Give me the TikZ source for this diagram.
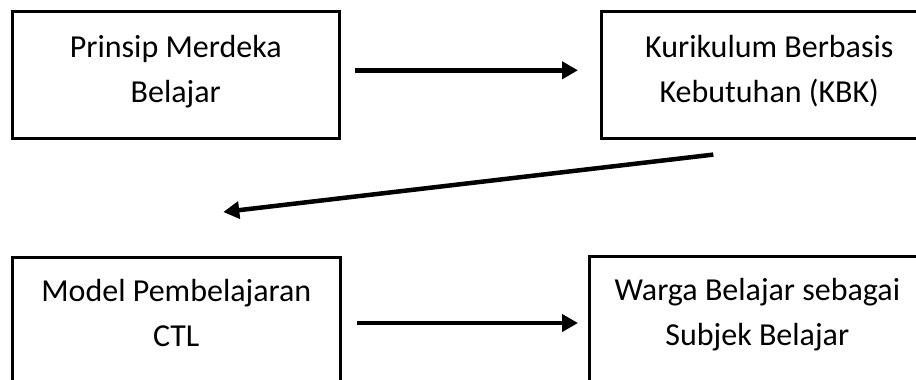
\documentclass[tikz,border=0pt]{standalone}
\usepackage{fontspec}
\setmainfont{Carlito}
\usetikzlibrary{arrows.meta}
\newcommand{\boxtxt}[4]{\parbox[c][#2][t]{#1}{\centering\rule{0pt}{#3}#4}}
\tikzset{
  cell/.style={draw, line width=2.6pt, inner sep=0pt, anchor=north west,
    font=\fontsize{32}{45}\selectfont},
  arr/.style={line width=4.5pt, -{Triangle[length=16pt,width=17pt]}}
}
\begin{document}
\begin{tikzpicture}[x=1pt,y=1pt]
\useasboundingbox (0,0) rectangle (916,-380);
\clip (0,0) rectangle (916,-380);
\node[cell] (a) at (11,-10) {\boxtxt{327pt}{127pt}{46pt}{Prinsip Merdeka\\Belajar}};
\node[cell] (b) at (600,-10) {\boxtxt{336pt}{127pt}{46pt}{Kurikulum Berbasis\\Kebutuhan (KBK)}};
\node[cell] (c) at (11,-256) {\boxtxt{328pt}{170pt}{44pt}{Model Pembelajaran\\CTL}};
\node[cell] (d) at (588,-255) {\boxtxt{336pt}{170pt}{44pt}{Warga Belajar sebagai\\Subjek Belajar}};
\draw[arr, shorten <=14pt, shorten >=22pt] ([yshift=4.5pt]a.east) -- ([yshift=4.5pt]b.west);
\draw[arr] ([shift={(-56pt,-15pt)}]b.south) -- ([shift={(47pt,44pt)}]c.north);
\draw[arr, shorten <=15pt, shorten >=10pt] ([yshift=-67pt]c.north east) -- ([yshift=-68pt]d.north west);
\end{tikzpicture}
\end{document}
